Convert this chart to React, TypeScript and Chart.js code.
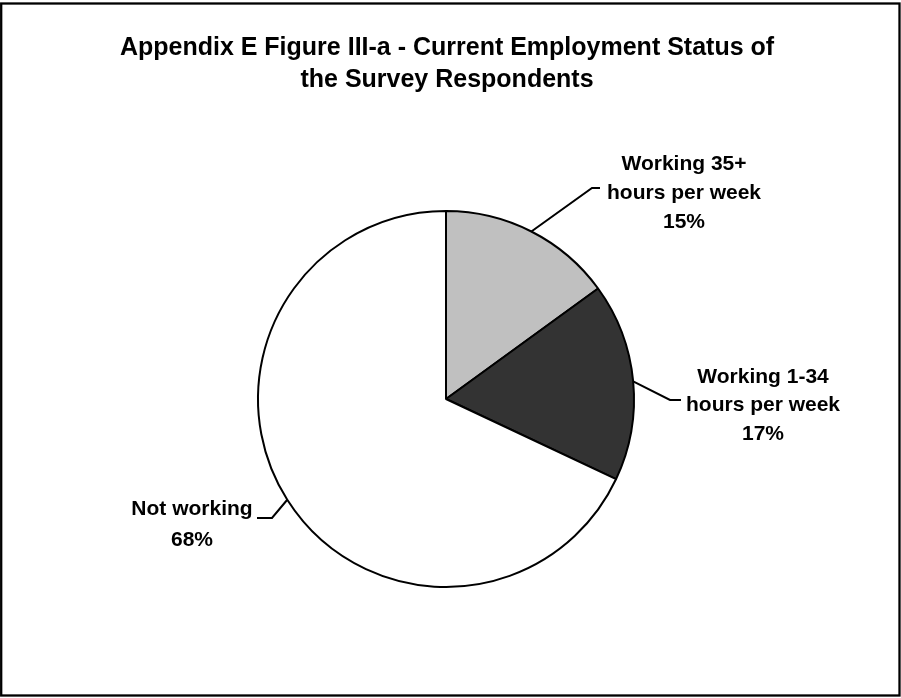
import React, { useEffect, useRef } from "react";
import { Chart, registerables } from "chart.js";

Chart.register(...registerables);

const titleLines = [
  "Appendix E Figure III-a - Current Employment Status of",
  "the Survey Respondents",
];
const categories = ["Working 35+ hours per week", "Working 1-34 hours per week", "Not working"];
const shares = [15, 17, 68];
const sliceColors = ["#c0c0c0", "#333333", "#ffffff"];
const labelLines = [
  ["Working 35+", "hours per week", "15%"],
  ["Working 1-34", "hours per week", "17%"],
  ["Not working", "68%"],
];

// text block placement and leader elbow/end for each slice label
const labelLayout = [
  { cx: 684, y0: 164, lh: 29, elbow: [592, 188], end: [600, 188] },
  { cx: 763, y0: 377, lh: 28.5, elbow: [670, 400], end: [681, 400] },
  { cx: 192, y0: 509, lh: 31, elbow: [272, 518], end: [257, 518] },
];

const FONT = "'Liberation Sans', Arial, Helvetica, sans-serif";

const decorations = {
  id: "decorations",
  afterDraw(chart: any) {
    const ctx = chart.ctx as CanvasRenderingContext2D;
    ctx.save();
    // outer frame
    ctx.strokeStyle = "#000";
    ctx.lineWidth = 2.3;
    ctx.strokeRect(1.2, 3.5, 898.3, 692);

    // title
    ctx.fillStyle = "#000";
    ctx.textAlign = "center";
    ctx.textBaseline = "middle";
    ctx.font = `bold 25px ${FONT}`;
    titleLines.forEach((t, i) => ctx.fillText(t, 447, 48 + i * 32));

    // slice labels with leader lines
    const meta = chart.getDatasetMeta(0);
    ctx.font = `bold 21px ${FONT}`;
    meta.data.forEach((arc: any, i: number) => {
      const p = arc.getProps(["x", "y", "startAngle", "endAngle", "outerRadius"], true);
      const mid = (p.startAngle + p.endAngle) / 2;
      const sx = p.x + Math.cos(mid) * p.outerRadius;
      const sy = p.y + Math.sin(mid) * p.outerRadius;
      const L = labelLayout[i];
      ctx.beginPath();
      ctx.lineWidth = 2;
      ctx.moveTo(sx, sy);
      ctx.lineTo(L.elbow[0], L.elbow[1]);
      ctx.lineTo(L.end[0], L.end[1]);
      ctx.stroke();
      labelLines[i].forEach((t, j) => ctx.fillText(t, L.cx, L.y0 + j * L.lh));
    });
    ctx.restore();
  },
};

export default function App() {
  const ref = useRef<HTMLCanvasElement>(null);

  useEffect(() => {
    document.body.style.margin = "0";
    const chart = new Chart(ref.current as HTMLCanvasElement, {
      type: "pie",
      data: {
        labels: categories,
        datasets: [
          {
            data: shares,
            backgroundColor: sliceColors,
            borderColor: "#000",
            borderWidth: 2,
          },
        ],
      },
      options: {
        animation: false,
        responsive: false,
        events: [],
        layout: { padding: { left: 200, right: 209, top: 210, bottom: 110 } },
        plugins: {
          legend: { display: false },
          tooltip: { enabled: false },
          title: { display: false },
        },
      },
      plugins: [decorations],
    });
    return () => chart.destroy();
  }, []);

  return (
    <div style={{ width: 901, height: 698, background: "#fff" }}>
      <canvas ref={ref} width={901} height={698} style={{ display: "block" }} />
    </div>
  );
}
